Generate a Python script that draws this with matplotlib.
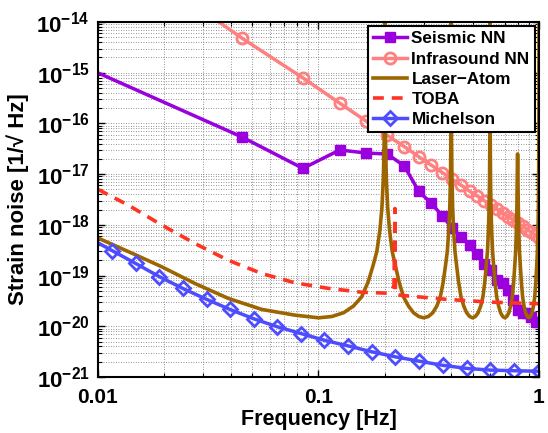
import numpy as np
import matplotlib
matplotlib.use('Agg')
import matplotlib.pyplot as plt
from matplotlib.ticker import FixedLocator, FixedFormatter, LogLocator, NullFormatter

# ---- data ----
# Seismic / Infrasound NN share one frequency grid
nn_freq = [0.005, 0.045, 0.085, 0.125, 0.165, 0.205, 0.245, 0.285, 0.325, 0.365,
           0.405, 0.445, 0.485, 0.525, 0.565, 0.605, 0.645, 0.685, 0.725, 0.765,
           0.805, 0.845, 0.885, 0.925, 0.965, 1.005]
seismic_nn = [3.8e-15, 5.4e-17, 1.3e-17, 3.0e-17, 2.6e-17, 2.5e-17, 1.45e-17, 4.6e-18,
              2.65e-18, 1.5e-18, 8.5e-19, 5.7e-19, 4.0e-19, 2.7e-19, 1.7e-19, 1.3e-19,
              8.0e-20, 7.0e-20, 5.3e-20, 3.3e-20, 2.1e-20, 1.85e-20, 1.8e-20, 1.5e-20,
              1.2e-20, 1.2e-20]
infrasound_nn = [3.9e-12, 4.8e-15, 7.9e-16, 2.5e-16, 1.1e-16, 5.8e-17, 3.5e-17, 2.2e-17,
                 1.5e-17, 1.07e-17, 7.9e-18, 6.0e-18, 4.6e-18, 3.7e-18, 3.0e-18, 2.45e-18,
                 2.05e-18, 1.7e-18, 1.45e-18, 1.25e-18, 1.08e-18, 9.3e-19, 8.1e-19,
                 7.1e-19, 6.3e-19, 5.5e-19]

laser_freq = [0.01, 0.0147, 0.0194, 0.0275, 0.039, 0.0553, 0.0782, 0.1, 0.115, 0.13,
              0.144, 0.157, 0.168, 0.177, 0.184, 0.19, 0.194, 0.197, 0.199, 0.2,
              0.201, 0.203, 0.206, 0.21, 0.216, 0.223, 0.232, 0.243, 0.256, 0.27,
              0.285, 0.3, 0.315, 0.33, 0.344, 0.357, 0.368, 0.377, 0.384, 0.39,
              0.394, 0.397, 0.399, 0.4,
              0.401, 0.403, 0.406, 0.41, 0.416, 0.423, 0.432, 0.443, 0.456, 0.47,
              0.485, 0.5, 0.515, 0.53, 0.544, 0.557, 0.568, 0.577, 0.584, 0.59,
              0.594, 0.597, 0.599, 0.6,
              0.601, 0.603, 0.606, 0.61, 0.616, 0.623, 0.632, 0.643, 0.656, 0.67,
              0.685, 0.7, 0.715, 0.73, 0.744, 0.757, 0.768, 0.777, 0.784, 0.79,
              0.794, 0.797, 0.8,
              0.803, 0.806, 0.81, 0.816, 0.823, 0.832, 0.843, 0.856, 0.87,
              0.885, 0.9, 0.915, 0.93, 0.944, 0.957, 0.968, 0.977, 0.984, 0.99,
              0.994, 0.997, 0.999, 1.0]
laser_atom = [5.5e-19, 2.6e-19, 1.5e-19, 7.0e-20, 3.55e-20, 2.15e-20, 1.66e-20, 1.47e-20, 1.56e-20, 1.85e-20,
              2.5e-20, 3.8e-20, 7.5e-20, 1.6e-19, 3.0e-19, 7.9e-19, 2.2e-18, 8.6e-18, 7.7e-17, 1e-12,
              7.7e-17, 8.6e-18, 2.2e-18, 7.9e-19, 3.0e-19, 1.6e-19, 7.5e-20, 3.8e-20, 2.5e-20, 1.85e-20,
              1.56e-20, 1.47e-20, 1.56e-20, 1.85e-20, 2.5e-20, 3.8e-20, 7.5e-20, 1.6e-19, 3.0e-19, 7.9e-19,
              2.2e-18, 8.6e-18, 7.7e-17, 1e-12,
              7.7e-17, 8.6e-18, 2.2e-18, 7.9e-19, 3.0e-19, 1.6e-19, 7.5e-20, 3.8e-20, 2.5e-20, 1.85e-20,
              1.56e-20, 1.47e-20, 1.56e-20, 1.85e-20, 2.5e-20, 3.8e-20, 7.5e-20, 1.6e-19, 3.0e-19, 7.9e-19,
              2.2e-18, 8.6e-18, 7.7e-17, 1e-12,
              7.7e-17, 8.6e-18, 2.2e-18, 7.9e-19, 3.0e-19, 1.6e-19, 7.5e-20, 3.8e-20, 2.5e-20, 1.85e-20,
              1.56e-20, 1.47e-20, 1.56e-20, 1.85e-20, 2.5e-20, 3.8e-20, 7.5e-20, 1.6e-19, 3.0e-19, 7.9e-19,
              2.2e-18, 8.6e-18, 2.5e-17,
              8.6e-18, 2.2e-18, 7.9e-19, 3.0e-19, 1.6e-19, 7.5e-20, 3.8e-20, 2.5e-20, 1.85e-20,
              1.56e-20, 1.47e-20, 1.56e-20, 1.85e-20, 2.5e-20, 3.8e-20, 7.5e-20, 1.6e-19, 3.0e-19, 7.9e-19,
              2.2e-18, 8.6e-18, 7.7e-17, 1e-12]

toba_freq = [0.01, 0.0137, 0.0194, 0.0275, 0.039, 0.0553, 0.0782, 0.1107, 0.157, 0.204,
             0.215, 0.22, 0.2223, 0.2235, 0.234, 0.381, 0.6, 0.942, 1.0]
toba = [5.0e-18, 2.46e-18, 1.0e-18, 4.3e-19, 2.0e-19, 1.1e-19, 7.2e-20, 5.6e-20, 4.7e-20, 4.5e-20,
        5.0e-20, 6.5e-20, 2.1e-18, 4.3e-20, 4.1e-20, 3.4e-20, 3.0e-20, 2.8e-20, 2.8e-20]

mich_freq = [0.0092, 0.0116, 0.0148, 0.0190, 0.0242, 0.0311, 0.0397, 0.051, 0.065, 0.0833,
             0.1063, 0.1365, 0.1743, 0.223, 0.2855, 0.366, 0.47, 0.6, 0.77, 1.0]
michelson = [5.4e-19, 3.1e-19, 1.74e-19, 9.5e-20, 5.6e-20, 3.4e-20, 2.15e-20, 1.4e-20, 9.8e-21, 7.2e-21,
             5.3e-21, 4.1e-21, 3.15e-21, 2.5e-21, 2.06e-21, 1.7e-21, 1.48e-21, 1.37e-21, 1.33e-21, 1.3e-21]

ytick_exp = [-21, -20, -19, -18, -17, -16, -15, -14]
xtick_vals = [0.01, 0.1, 1]
xtick_text = ['0.01', '0.1', '1']

# ---- style ----
plt.rcParams['font.family'] = ['Liberation Sans', 'DejaVu Sans']
plt.rcParams['font.weight'] = 'bold'
plt.rcParams['mathtext.fontset'] = 'custom'
plt.rcParams['mathtext.rm'] = 'Liberation Sans:bold'
plt.rcParams['mathtext.bf'] = 'Liberation Sans:bold'

fig = plt.figure(figsize=(5.48, 4.33), dpi=100)
ax = fig.add_axes([0.1788, 0.1293, 0.8047, 0.8199])

ax.loglog(nn_freq, seismic_nn, color='#9900DD', lw=2.5, marker='s', ms=7,
          mfc='#9900DD', mec='#9900DD', label='Seismic NN')
ax.loglog(nn_freq, infrasound_nn, color='#FF8080', lw=2.5, marker='o', ms=8,
          mfc='none', mec='#FF8080', mew=2, label='Infrasound NN')
ax.loglog(laser_freq, laser_atom, color='#9C6500', lw=2.6, label='Laser\u2212Atom')
ax.loglog(toba_freq, toba, color='#FF3322', lw=2.6, ls=(0, (3, 2.2)), label='TOBA')
ax.loglog(mich_freq, michelson, color='#4D4DFF', lw=2.5, marker='D', ms=7,
          mfc='none', mec='#4D4DFF', mew=2, markevery=list(range(1, len(mich_freq))),
          label='Michelson')

ax.set_xlim(0.01, 1)
ax.set_ylim(1e-21, 1e-14)

ax.xaxis.set_major_locator(FixedLocator(xtick_vals))
ax.xaxis.set_major_formatter(FixedFormatter(xtick_text))
ax.xaxis.set_minor_locator(LogLocator(base=10, subs=np.arange(2, 10)))
ax.xaxis.set_minor_formatter(NullFormatter())
ax.yaxis.set_major_locator(FixedLocator([10.0 ** e for e in ytick_exp]))
ax.yaxis.set_major_formatter(FixedFormatter([r'$\mathbf{10^{%d}}$' % e for e in ytick_exp]))
ax.yaxis.set_minor_locator(LogLocator(base=10, subs=np.arange(2, 10), numticks=20))
ax.yaxis.set_minor_formatter(NullFormatter())

ax.tick_params(which='both', direction='in', top=True, right=True)
ax.tick_params(axis='x', labelsize=15, pad=8)
ax.tick_params(axis='y', labelsize=16, pad=6)
ax.tick_params(which='major', length=5, width=1)
ax.tick_params(which='minor', length=3, width=0.8)
for s in ax.spines.values():
    s.set_linewidth(1.5)

ax.grid(True, which='both', ls=(0, (1, 2)), color='0.45', lw=0.6)

ax.set_xlabel('Frequency [Hz]', fontsize=15.5, fontweight='bold', labelpad=1)
ax.set_ylabel('Strain noise [1/\u221a Hz]', fontsize=16, fontweight='bold', labelpad=5)

leg = ax.legend(loc='upper right', fontsize=12.3, frameon=True, fancybox=False,
                framealpha=1, edgecolor='black', borderaxespad=0.25,
                handlelength=2.0, handletextpad=0.25, labelspacing=0.3,
                borderpad=0.3)
leg.get_frame().set_linewidth(1.5)
for t in leg.get_texts():
    t.set_fontweight('bold')

fig.savefig('out.png', dpi=100)
